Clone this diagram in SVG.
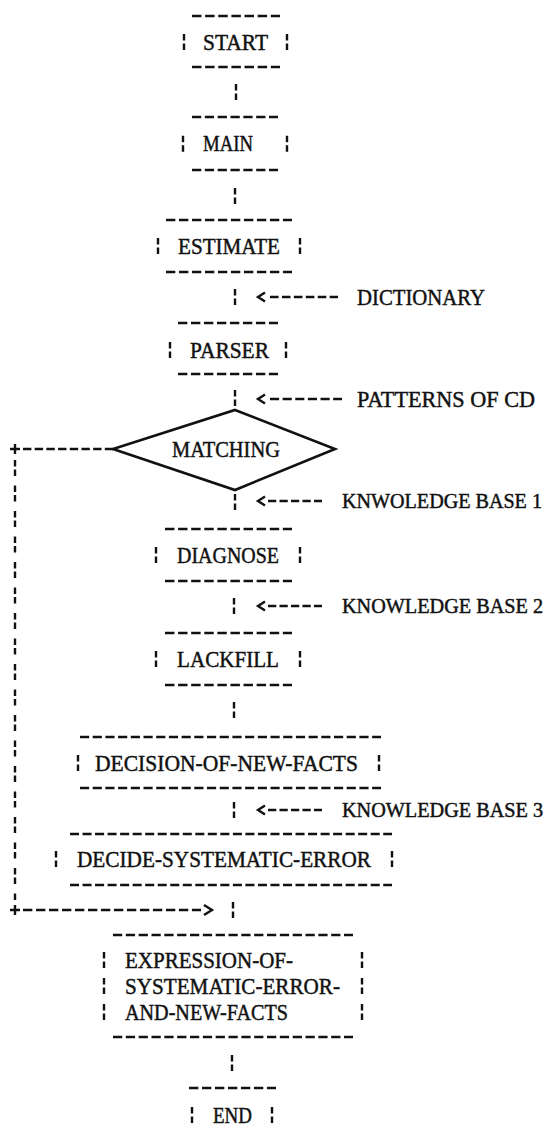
<svg xmlns="http://www.w3.org/2000/svg" xmlns:xlink="http://www.w3.org/1999/xlink" width="551" height="1139" viewBox="0 0 551 1139">
<style>
.t{font-family:"Liberation Serif","Times New Roman",serif;font-size:22.5px;fill:#111;stroke:#111;stroke-width:0.45}
.k{font-size:20.5px}
.d{stroke:#111;stroke-width:2.5;stroke-dasharray:7.2 2.8;fill:none}
.b{stroke:#111;stroke-width:2.4;fill:none}
.s{stroke:#111;stroke-width:2.6;fill:none;stroke-linejoin:miter}
</style>
<defs>
<path id="bar" d="M0,-8V-1.5M0,1.5V8"/>
<path id="lt" d="M7,-4.5L0,0L7,4.5"/>
<path id="gt" d="M-8,-5L0,0L-8,5"/>
</defs>
<rect width="551" height="1139" fill="#fff"/>

<g id="connectors" class="b">
<use href="#bar" x="236" y="92"/>
<use href="#bar" x="235" y="196"/>
<use href="#bar" x="235" y="297"/>
<use href="#lt" x="258" y="297"/>
<line class="d" x1="270" y1="297" x2="338" y2="297" pathLength="57"/>
<use href="#bar" x="235" y="398"/>
<use href="#lt" x="258" y="399"/>
<line class="d" x1="270" y1="399" x2="342" y2="399" pathLength="57"/>
<use href="#bar" x="235" y="502"/>
<use href="#lt" x="258" y="501"/>
<line class="d" x1="268" y1="501" x2="322" y2="501" pathLength="47"/>
<use href="#bar" x="234" y="606"/>
<use href="#lt" x="258" y="606"/>
<line class="d" x1="268" y1="606" x2="322" y2="606" pathLength="47"/>
<use href="#bar" x="234" y="710"/>
<use href="#bar" x="234" y="810"/>
<use href="#lt" x="258" y="810"/>
<line class="d" x1="268" y1="810" x2="322" y2="810" pathLength="47"/>
<use href="#bar" x="233" y="910"/>
<use href="#bar" x="232" y="1063"/>
<path d="M10,449H20M15,444V454M10,910H20M15,905V915"/>
<line class="d" x1="23" y1="449" x2="113" y2="449" pathLength="77"/>
<line x1="15" y1="460" x2="15" y2="902" stroke-dasharray="6.5 3 6.5 9.5"/>
<line class="d" x1="23" y1="910" x2="201" y2="910" pathLength="137"/>
<use href="#gt" x="212" y="910"/>
</g>

<g id="start">
<line class="d" x1="192" y1="16" x2="280" y2="16" pathLength="67"/>
<use class="b" href="#bar" x="184" y="42"/>
<text class="t" x="203" y="49.5" textLength="65" lengthAdjust="spacingAndGlyphs">START</text>
<use class="b" href="#bar" x="287" y="42"/>
<line class="d" x1="192" y1="67" x2="280" y2="67" pathLength="67"/>
</g>

<g id="main">
<line class="d" x1="192" y1="117" x2="278" y2="117" pathLength="67"/>
<use class="b" href="#bar" x="183" y="143.8"/>
<text class="t" x="203" y="151.3" textLength="50" lengthAdjust="spacingAndGlyphs">MAIN</text>
<use class="b" href="#bar" x="287" y="143.8"/>
<line class="d" x1="192" y1="170" x2="278" y2="170" pathLength="67"/>
</g>

<g id="estimate">
<line class="d" x1="166" y1="220" x2="292" y2="220" pathLength="97"/>
<use class="b" href="#bar" x="158" y="246"/>
<text class="t" x="178" y="253.5" textLength="102" lengthAdjust="spacingAndGlyphs">ESTIMATE</text>
<use class="b" href="#bar" x="300" y="246"/>
<line class="d" x1="166" y1="272" x2="292" y2="272" pathLength="97"/>
</g>

<g id="dictionary">
<text class="t" x="357" y="304.5" textLength="128" lengthAdjust="spacingAndGlyphs">DICTIONARY</text>
</g>

<g id="parser">
<line class="d" x1="178" y1="323" x2="278" y2="323" pathLength="77"/>
<use class="b" href="#bar" x="170" y="350"/>
<text class="t" x="190" y="357.5" textLength="79" lengthAdjust="spacingAndGlyphs">PARSER</text>
<use class="b" href="#bar" x="286" y="350"/>
<line class="d" x1="178" y1="374" x2="278" y2="374" pathLength="77"/>
</g>

<g id="patterns">
<text class="t" x="357" y="406.5" textLength="178" lengthAdjust="spacingAndGlyphs">PATTERNS OF CD</text>
</g>

<g id="matching">
<polygon class="s" points="235,410 335,449 235,490 113,449"/>
<text class="t" x="172" y="456.5" textLength="108" lengthAdjust="spacingAndGlyphs">MATCHING</text>
</g>

<g id="kb1">
<text class="t k" x="342" y="508" textLength="200" lengthAdjust="spacingAndGlyphs">KNWOLEDGE BASE 1</text>
</g>

<g id="diagnose">
<line class="d" x1="165" y1="529" x2="292" y2="529" pathLength="97"/>
<use class="b" href="#bar" x="156" y="555"/>
<text class="t" x="177" y="562.5" textLength="102" lengthAdjust="spacingAndGlyphs">DIAGNOSE</text>
<use class="b" href="#bar" x="300" y="555"/>
<line class="d" x1="165" y1="581" x2="292" y2="581" pathLength="97"/>
</g>

<g id="kb2">
<text class="t k" x="342" y="613" textLength="201" lengthAdjust="spacingAndGlyphs">KNOWLEDGE BASE 2</text>
</g>

<g id="lackfill">
<line class="d" x1="165" y1="633" x2="292" y2="633" pathLength="97"/>
<use class="b" href="#bar" x="156" y="659"/>
<text class="t" x="177" y="666.5" textLength="102" lengthAdjust="spacingAndGlyphs">LACKFILL</text>
<use class="b" href="#bar" x="300" y="659"/>
<line class="d" x1="165" y1="685" x2="292" y2="685" pathLength="97"/>
</g>

<g id="decision">
<line class="d" x1="80" y1="737" x2="381" y2="737" pathLength="237"/>
<use class="b" href="#bar" x="78" y="763"/>
<text class="t" x="95" y="770.5" textLength="263" lengthAdjust="spacingAndGlyphs">DECISION-OF-NEW-FACTS</text>
<use class="b" href="#bar" x="379" y="763"/>
<line class="d" x1="80" y1="788" x2="381" y2="788" pathLength="237"/>
</g>

<g id="kb3">
<text class="t k" x="342" y="817" textLength="201" lengthAdjust="spacingAndGlyphs">KNOWLEDGE BASE 3</text>
</g>

<g id="decide">
<line class="d" x1="70" y1="834" x2="392" y2="834" pathLength="257"/>
<use class="b" href="#bar" x="56" y="859"/>
<text class="t" x="77" y="866.5" textLength="294" lengthAdjust="spacingAndGlyphs">DECIDE-SYSTEMATIC-ERROR</text>
<use class="b" href="#bar" x="392" y="859"/>
<line class="d" x1="70" y1="885" x2="392" y2="885" pathLength="257"/>
</g>

<g id="expression">
<line class="d" x1="113" y1="935" x2="353" y2="935" pathLength="187"/>
<use class="b" href="#bar" x="104" y="960"/>
<use class="b" href="#bar" x="362" y="960"/>
<use class="b" href="#bar" x="104" y="986"/>
<use class="b" href="#bar" x="362" y="986"/>
<use class="b" href="#bar" x="104" y="1012"/>
<use class="b" href="#bar" x="362" y="1012"/>
<text class="t" x="125" y="967.5" textLength="168" lengthAdjust="spacingAndGlyphs">EXPRESSION-OF-</text>
<text class="t" x="125" y="993.5" textLength="215" lengthAdjust="spacingAndGlyphs">SYSTEMATIC-ERROR-</text>
<text class="t" x="125" y="1019.5" textLength="163" lengthAdjust="spacingAndGlyphs">AND-NEW-FACTS</text>
<line class="d" x1="113" y1="1037" x2="353" y2="1037" pathLength="187"/>
</g>

<g id="end">
<line class="d" x1="189" y1="1088" x2="276" y2="1088" pathLength="67"/>
<use class="b" href="#bar" x="192" y="1115"/>
<text class="t" x="213" y="1122.5" textLength="39" lengthAdjust="spacingAndGlyphs">END</text>
<use class="b" href="#bar" x="272" y="1115"/>
</g>
</svg>
